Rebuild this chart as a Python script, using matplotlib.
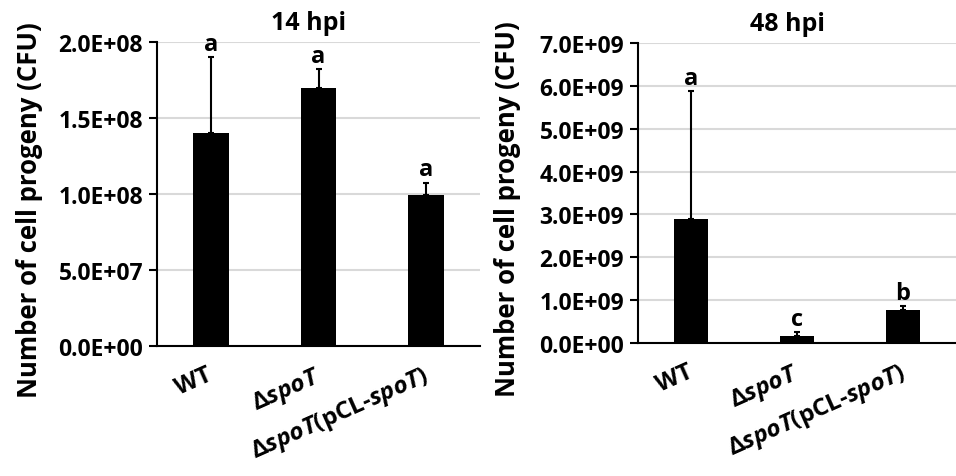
import matplotlib
matplotlib.use("Agg")
import matplotlib.pyplot as plt
import numpy as np

plt.rcParams['font.family'] = ['Open Sans', 'DejaVu Sans']
plt.rcParams['font.weight'] = 'bold'
plt.rcParams['mathtext.fontset'] = 'custom'
plt.rcParams['mathtext.it'] = 'Open Sans:italic:bold'
plt.rcParams['mathtext.rm'] = 'Open Sans:bold'

# data
strains = ['WT', '\u0394$\\mathit{spoT}$', '\u0394$\\mathit{spoT}$(pCL-$\\mathit{spoT}$)']

mean_14 = [1.40e8, 1.70e8, 0.995e8]
err_14 = [0.50e8, 0.12e8, 0.08e8]
letters_14 = ['a', 'a', 'a']
ticks_14 = [0, 5e7, 1e8, 1.5e8, 2e8]
ticklab_14 = ['0.0E+00', '5.0E+07', '1.0E+08', '1.5E+08', '2.0E+08']

mean_48 = [2.90e9, 0.165e9, 0.775e9]
err_48 = [2.97e9, 0.095e9, 0.08e9]
letters_48 = ['a', 'c', 'b']
ticks_48 = [0, 1e9, 2e9, 3e9, 4e9, 5e9, 6e9, 7e9]
ticklab_48 = ['0.0E+00', '1.0E+09', '2.0E+09', '3.0E+09', '4.0E+09',
              '5.0E+09', '6.0E+09', '7.0E+09']

fig = plt.figure(figsize=(9.56, 4.77), dpi=100)
ax1 = fig.add_axes([157/956, 130/477, 323/956, 304/477])
ax2 = fig.add_axes([638/956, 133/477, 318/956, 300/477])


def panel(ax, means, errs, letters, ticks, ticklabs, title, ymax, pad, labx):
    x = np.arange(len(means))
    ax.bar(x, means, width=0.33, color='black', zorder=3)
    ax.errorbar(x, means, yerr=[np.zeros(len(errs)), errs], fmt='none',
                ecolor='black', elinewidth=1.5, capsize=2.5, capthick=1.5, zorder=4)
    for xi, m, e, l in zip(x, means, errs, letters):
        ax.text(xi, m + e + pad, l, ha='center', va='bottom', fontsize=17,
                fontweight='bold')
    ax.set_xlim(-0.5, 2.5)
    ax.set_ylim(0, ymax)
    ax.set_yticks(ticks)
    ax.set_yticklabels(ticklabs, fontsize=16.5, fontweight='bold')
    ax.set_xticks(x - 0.04)
    ax.set_xticklabels(strains, rotation=24, ha='right', rotation_mode='anchor',
                       fontsize=17.5, fontweight='bold')
    ax.tick_params(axis='x', length=0, pad=12)
    ax.tick_params(axis='y', length=6, width=1.5, direction='out', pad=4)
    ax.yaxis.grid(True, color='#d9d9d9', lw=1.5, zorder=0)
    ax.set_axisbelow(True)
    for s in ['top', 'right']:
        ax.spines[s].set_visible(False)
    ax.spines['left'].set_linewidth(1.5)
    ax.spines['bottom'].set_linewidth(1.5)
    ax.set_ylabel('Number of cell progeny (CFU)', fontsize=18.5, fontweight='bold')
    ax.yaxis.set_label_coords(labx, 0.45)
    ax.set_title(title, fontsize=18, fontweight='bold', pad=9, x=0.47)


panel(ax1, mean_14, err_14, letters_14, ticks_14, ticklab_14, '14 hpi', 2e8, 1e6, -0.353)
panel(ax2, mean_48, err_48, letters_48, ticks_48, ticklab_48, '48 hpi', 7e9, 3e7, -0.368)

fig.savefig('out.png', dpi=100)
